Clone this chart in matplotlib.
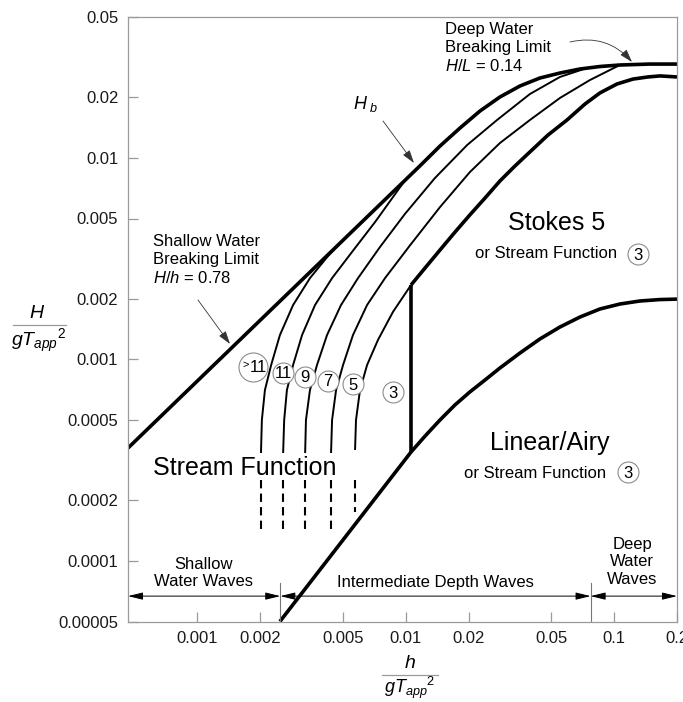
import numpy as np
import matplotlib.pyplot as plt
import matplotlib.transforms as mtransforms

plt.rcParams['font.family'] = ['Liberation Sans', 'DejaVu Sans']
plt.rcParams['mathtext.fontset'] = 'custom'
plt.rcParams['mathtext.rm'] = 'Liberation Sans'
plt.rcParams['mathtext.it'] = 'Liberation Sans:italic'

# ejes: h/gT^2 (x) y H/gT^2 (y)
x_ticks = [0.001, 0.002, 0.005, 0.01, 0.02, 0.05, 0.1, 0.2]
x_tick_labels = ['0.001', '0.002', '0.005', '0.01', '0.02', '0.05', '0.1', '0.2']
y_ticks = [0.00005, 0.0001, 0.0002, 0.0005, 0.001, 0.002, 0.005, 0.01, 0.02, 0.05]
y_tick_labels = ['0.00005', '0.0001', '0.0002', '0.0005', '0.001', '0.002',
                 '0.005', '0.01', '0.02', '0.05']

# limite de rotura Hb (H/h = 0.78 en aguas someras, H/L = 0.14 en profundas)
hb_h = [0.000465, 0.0117, 0.0146, 0.0182, 0.0227, 0.0283, 0.0353, 0.0440, 0.0549,
        0.0685, 0.0854, 0.1065, 0.148, 0.2]
hb_H = [0.000363, 0.00913, 0.01145, 0.01406, 0.01708, 0.02005, 0.02273, 0.0249, 0.02636,
        0.0276, 0.0284, 0.02889, 0.0292, 0.0292]

# limite superior de Stokes 5 / Stream Function 3
stokes_h = [0.0106, 0.01237, 0.0146, 0.01722, 0.0203, 0.0240, 0.0283, 0.0334, 0.0394,
            0.0481, 0.0593, 0.0724, 0.0854, 0.103, 0.123, 0.1451, 0.166, 0.2]
stokes_H = [0.00234, 0.00284, 0.00349, 0.00428, 0.00521, 0.00632, 0.00768, 0.00911, 0.0107,
            0.01298, 0.0154, 0.0185, 0.0210, 0.02325, 0.0246, 0.0252, 0.0255, 0.0252]

# limite lineal / Airy
airy_h = [0.00249, 0.0106, 0.01237, 0.01459, 0.01722, 0.0203, 0.0240, 0.0283, 0.0353,
          0.0440, 0.0549, 0.0685, 0.0854, 0.1065, 0.1328, 0.1656, 0.2]
airy_H = [0.00005, 0.000347, 0.000416, 0.0005, 0.000594, 0.000689, 0.00079, 0.000906, 0.001075,
          0.001262, 0.001447, 0.001622, 0.001778, 0.001882, 0.001948, 0.00198, 0.00199]

# separacion vertical Stokes / Stream Function
split_h = [0.0106, 0.0106]
split_H = [0.000347, 0.00234]

# curvas de orden de la Stream Function (>11 | 11 | 9 | 7 | 5 | 3)
sf1_h = [0.00202, 0.00204, 0.00211, 0.00226, 0.00249, 0.00288, 0.00347, 0.00424, 0.00511]
sf1_H = [0.000343, 0.0005, 0.000704, 0.000937, 0.00132, 0.00186, 0.00253, 0.00326, 0.00399]
sf2_h = [0.00258, 0.00261, 0.00269, 0.00288, 0.00318, 0.00367, 0.00443, 0.00552, 0.00712, 0.00991]
sf2_H = [0.000343, 0.0005, 0.000704, 0.000937, 0.00132, 0.00186, 0.00253, 0.00341, 0.0048, 0.00773]
sf3_h = [0.00329, 0.00332, 0.00347, 0.00375, 0.00419, 0.00489, 0.0059, 0.00752, 0.00991,
         0.0138, 0.0197, 0.0274, 0.0394, 0.0549, 0.0708]
sf3_H = [0.000343, 0.0005, 0.000704, 0.000937, 0.00132, 0.00186, 0.00253, 0.00361, 0.00527,
         0.00794, 0.01158, 0.01541, 0.02074, 0.0252, 0.0275]
sf4_h = [0.00438, 0.00443, 0.00463, 0.005, 0.00558, 0.00652, 0.00795, 0.0105, 0.0146,
         0.0203, 0.0283, 0.0394, 0.0549, 0.0765, 0.1065]
sf4_H = [0.000343, 0.0005, 0.000704, 0.000937, 0.00132, 0.00186, 0.00253, 0.00369, 0.0057,
         0.0085, 0.01185, 0.01541, 0.01982, 0.02434, 0.0289]
sf5_h = [0.00571, 0.00577, 0.00603, 0.00652, 0.00736, 0.00868, 0.0106]
sf5_H = [0.000355, 0.0005, 0.000704, 0.000937, 0.00125, 0.00172, 0.00234]

# tramos discontinuos bajo "Stream Function"
dash_h = [0.00202, 0.00258, 0.00329, 0.00438, 0.00571]
dash_top = [0.000252, 0.000252, 0.000252, 0.000252, 0.000252]
dash_bottom = [0.000142, 0.000142, 0.000142, 0.000142, 0.000175]

# limites de profundidad relativa
depth_bounds = [0.0025, 0.077]

W, H = 683, 702
fig = plt.figure(figsize=(W / 100, H / 100), dpi=100)
ax = fig.add_axes([128 / W, 1 - 621.5 / H, 549 / W, 604.5 / H])
ax.set_xscale('log')
ax.set_yscale('log')
ax.set_xlim(0.000465, 0.2)
ax.set_ylim(0.00005, 0.05)

grey = '#9a9a9a'
for s in ax.spines.values():
    s.set_color(grey)
    s.set_linewidth(0.9)
ax.set_xticks(x_ticks)
ax.set_xticklabels(x_tick_labels)
ax.set_yticks(y_ticks)
ax.set_yticklabels(y_tick_labels)
ax.minorticks_off()
ax.tick_params(direction='in', length=7, width=0.9, color=grey,
               labelsize=12, labelcolor='#1a1a1a', pad=7)

thick = dict(color='black', lw=2.6, solid_capstyle='butt', solid_joinstyle='round', zorder=2)
thin = dict(color='black', lw=1.4, solid_capstyle='butt', solid_joinstyle='round', zorder=2)
ax.plot(hb_h, hb_H, **thick)
ax.plot(stokes_h, stokes_H, **thick)
ax.plot(airy_h, airy_H, **thick)
ax.plot(split_h, split_H, **thick)
for ch, cH in [(sf1_h, sf1_H), (sf2_h, sf2_H), (sf3_h, sf3_H), (sf4_h, sf4_H), (sf5_h, sf5_H)]:
    ax.plot(ch, cH, **thin)
for xh, t, b in zip(dash_h, dash_top, dash_bottom):
    ax.plot([xh, xh], [t, b], color='black', lw=1.5, dashes=(4, 2.5), zorder=2)

# zonas de profundidad en la parte inferior
for xb in depth_bounds:
    ax.axvline(xb, ymin=0, ymax=0.064, color='#777777', lw=0.8)
edges = [ax.get_xlim()[0]] + depth_bounds + [ax.get_xlim()[1]]
for a, b in zip(edges[:-1], edges[1:]):
    ax.annotate('', xy=(b, 0.042), xytext=(a, 0.042),
                xycoords=('data', 'axes fraction'), textcoords=('data', 'axes fraction'),
                arrowprops=dict(arrowstyle='<|-|>,head_length=0.9,head_width=0.22',
                                mutation_scale=10, color='black', lw=0.7,
                                shrinkA=0, shrinkB=0))

pix = mtransforms.IdentityTransform()


def txt(px, py, s, **kw):
    fig.text(px / W, 1 - py / H, s, **kw)


def circ(px, py, d=15.1):
    ax.plot([px], [H - py], 'o', ms=d, mfc='white', mec='#8c8c8c', mew=0.8,
            transform=pix, clip_on=False, zorder=3)


# etiquetas de orden
for px, py, lab in [(283, 373, '11'), (305, 377, '9'), (328, 381, '7'),
                    (353, 384, '5'), (393, 392, '3')]:
    circ(px, py)
    txt(px, py + 1, lab, fontsize=12, ha='center', va='center', zorder=4)
circ(253, 367, d=20.9)
txt(258, 368, '11', fontsize=12, ha='center', va='center', zorder=4)
txt(246, 365, '>', fontsize=8, ha='center', va='center', zorder=4)

txt(153, 468, 'Stream Function', fontsize=18, ha='left', va='center')
txt(557, 223, 'Stokes 5', fontsize=18, ha='center', va='center')
txt(475, 254, 'or Stream Function', fontsize=12, ha='left', va='center')
circ(638, 254)
txt(638, 255, '3', fontsize=12, ha='center', va='center', zorder=4)
txt(550, 443, 'Linear/Airy', fontsize=18, ha='center', va='center')
txt(464, 473, 'or Stream Function', fontsize=12, ha='left', va='center')
circ(628, 472)
txt(628, 473, '3', fontsize=12, ha='center', va='center', zorder=4)

txt(445, 48, 'Deep Water\nBreaking Limit\n$H/L$ = 0.14', fontsize=12,
    ha='left', va='center', linespacing=1.25)
txt(153, 260, 'Shallow Water\nBreaking Limit\n$H/h$ = 0.78', fontsize=12,
    ha='left', va='center', linespacing=1.25)
txt(366, 104, '$H_{\\ b}$', fontsize=13, ha='center', va='center')

txt(204, 573, 'Shallow\nWater Waves', fontsize=12, ha='center', va='center', linespacing=1.2)
txt(435, 583, 'Intermediate Depth Waves', fontsize=12, ha='center', va='center')
txt(632, 562, 'Deep\nWater\nWaves', fontsize=12, ha='center', va='center', linespacing=1.2)

# flechas de los limites de rotura
arr = dict(arrowstyle='-|>,head_length=0.8,head_width=0.25', mutation_scale=10,
           color='#333333', lw=0.6, shrinkA=0, shrinkB=0)
ax.annotate('', xy=(414, H - 163), xytext=(383, H - 121), xycoords=pix, textcoords=pix,
            arrowprops=arr)
ax.annotate('', xy=(230, H - 344), xytext=(198, H - 300), xycoords=pix, textcoords=pix,
            arrowprops=arr)
ax.annotate('', xy=(632, H - 62), xytext=(570, H - 42), xycoords=pix, textcoords=pix,
            arrowprops=dict(arr, connectionstyle='arc3,rad=-0.3'))

# rotulos de los ejes como fracciones
txt(37, 313, '$H$', fontsize=14, ha='center', va='center')
fig.add_artist(plt.Line2D([13 / W, 66 / W], [1 - 325 / H, 1 - 325 / H], color=grey, lw=0.9))
txt(39, 341, '$gT_{app}{}^{2}$', fontsize=14, ha='center', va='center')
txt(410, 663, '$h$', fontsize=14, ha='center', va='center')
fig.add_artist(plt.Line2D([382 / W, 438 / W], [1 - 675 / H, 1 - 675 / H], color=grey, lw=0.9))
txt(410, 688, '$gT_{app}{}^{2}$', fontsize=13, ha='center', va='center')

fig.savefig('out.png', dpi=100)
